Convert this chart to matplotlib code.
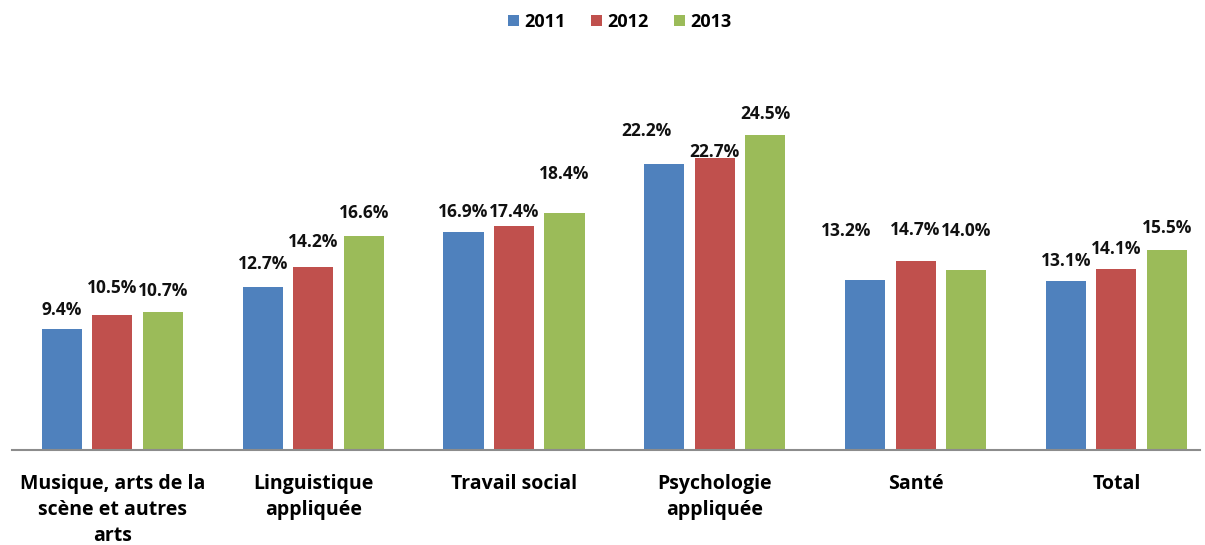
import matplotlib
matplotlib.use("Agg")
import matplotlib.pyplot as plt
import numpy as np

categories = ["Musique, arts de la\nscène et autres\narts", "Linguistique\nappliquée",
              "Travail social", "Psychologie\nappliquée", "Santé", "Total"]
years = ["2011", "2012", "2013"]
v2011 = [9.4, 12.7, 16.9, 22.2, 13.2, 13.1]
v2012 = [10.5, 14.2, 17.4, 22.7, 14.7, 14.1]
v2013 = [10.7, 16.6, 18.4, 24.5, 14.0, 15.5]

colors = ["#4F81BD", "#C0504D", "#9BBB59"]
# label offsets in points (dx, dy) above bar tops, mimicking Excel placement
label_offsets = [
    [(0, 14), (0, 16), (0, 15), (-13, 24), (-14, 35), (0, 15)],
    [(0, 19), (0, 18), (0, 10), (0, 4), (0, 22), (0, 14)],
    [(0, 15), (0, 17), (0, 28), (0, 15), (0, 28), (0, 16)],
]

plt.rcParams['font.family'] = ['Open Sans', 'DejaVu Sans']
fig = plt.figure(figsize=(12.05, 5.45), dpi=100)
ax = fig.add_axes([12/1205, (545-450)/545, (1200-12)/1205, 390/545])

x = np.arange(len(categories))
series = [v2011, v2012, v2013]
offs = [-0.2515, 0, 0.2515]
for i, (vals, c, yr) in enumerate(zip(series, colors, years)):
    bars = ax.bar(x + offs[i], vals, width=0.2, color=c, label=yr, zorder=2)
    for j, (b, v) in enumerate(zip(bars, vals)):
        dx, dy = label_offsets[i][j]
        ax.annotate(f"{v:.1f}%", (b.get_x() + b.get_width()/2, v),
                    xytext=(dx, dy), textcoords="offset points",
                    ha="center", va="center", fontsize=12.5, fontweight="bold",
                    color="#111111")

ax.set_xlim(-0.5, -0.5 + (1200-12)/200.8)
ax.set_ylim(0, 30.3)
ax.set_yticks([])
ax.set_xticks(x)
ax.set_xticklabels(categories, fontsize=14, fontweight="bold", linespacing=1.42,
                   va="top")
ax.tick_params(axis="x", length=0, pad=17)
for s in ["top", "right", "left"]:
    ax.spines[s].set_visible(False)
ax.spines["bottom"].set_color("#8C8C8C")
ax.spines["bottom"].set_linewidth(1.5)

leg = fig.legend(loc="center", bbox_to_anchor=(620/1205, 1 - 22/545), ncol=3,
                 frameon=False, prop={"weight": "bold", "size": 13},
                 handlelength=0.6, handleheight=0.6, handletextpad=0.3,
                 columnspacing=1.4)

fig.savefig("out.png", dpi=100)
